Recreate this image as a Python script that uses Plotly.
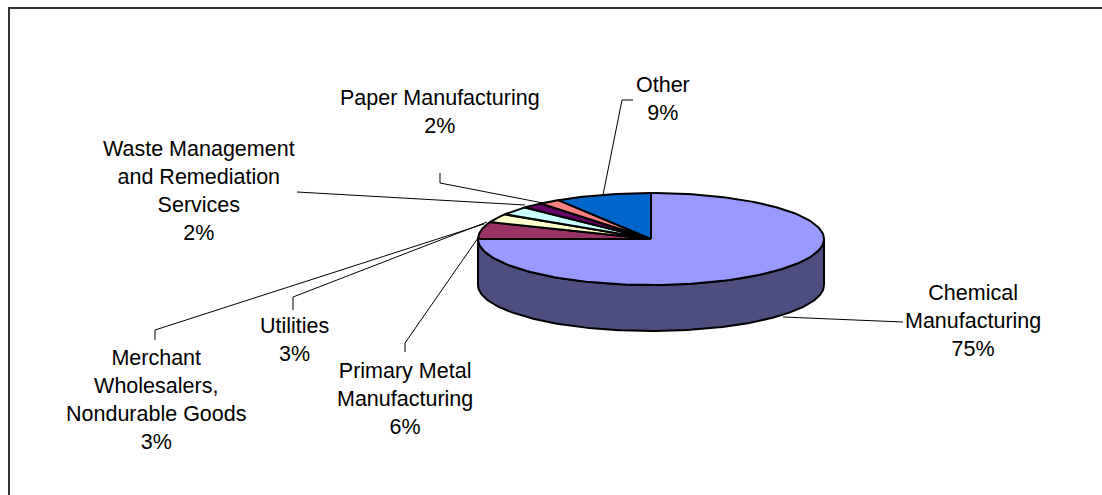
import numpy as np
import plotly.graph_objects as go

categories = ["Chemical<br>Manufacturing", "Primary Metal<br>Manufacturing", "Utilities",
              "Merchant<br>Wholesalers,<br>Nondurable Goods",
              "Waste Management<br>and Remediation<br>Services", "Paper Manufacturing", "Other"]
values = [75, 6, 3, 3, 2, 2, 9]
top_colors = ["#9999FF", "#993366", "#FFFFCC", "#CCFFFF", "#660066", "#FF8080", "#0066CC"]
wall_color = "#4D4D80"

WIDTH, HEIGHT = 1102, 495
CX, CY, RX, RY, DEPTH = 651, 239, 173, 46, 46

label_xy = [(973, 321), (405, 399), (294, 340), (155.5, 400), (199, 191), (440, 112), (663, 99)]
leaders = [
    [(783, 317), (903, 322)],
    [(478, 238), (405, 343), (405, 352)],
    [(487, 222), (293, 297), (293, 310)],
    [(484, 224), (155, 330), (155, 340)],
    [(525, 205), (308, 192), (297, 192)],
    [(543, 203), (440, 183), (440, 173)],
    [(603, 195), (622, 100), (633, 100)],
]

def ellipse(a0, a1, n=160):
    t = np.radians(np.linspace(a0, a1, n))
    return CX + RX * np.sin(t), CY - RY * np.cos(t)

fig = go.Figure()

# leader lines sit behind the pie
for pts in leaders:
    fig.add_trace(go.Scatter(
        x=[p[0] for p in pts], y=[p[1] for p in pts], mode="lines",
        line=dict(color="black", width=1), hoverinfo="skip", showlegend=False))

# side wall of the visible front half
wx, wy = ellipse(90, 270)
fig.add_trace(go.Scatter(
    x=np.r_[wx, wx[::-1], wx[0]], y=np.r_[wy + DEPTH, wy[::-1], wy[0] + DEPTH],
    mode="lines", fill="toself", fillcolor=wall_color,
    line=dict(color="black", width=2), hoverinfo="skip", showlegend=False))

# top slices
start = 0.0
total = sum(values)
for name, v, col in zip(categories, values, top_colors):
    end = start + 360.0 * v / total
    ex, ey = ellipse(start, end)
    fig.add_trace(go.Scatter(
        x=np.r_[CX, ex, CX], y=np.r_[CY, ey, CY],
        mode="lines", fill="toself", fillcolor=col,
        line=dict(color="black", width=2), name=name.replace("<br>", " "),
        hoverinfo="skip", showlegend=False))
    start = end

for name, v, (lx, ly) in zip(categories, values, label_xy):
    fig.add_annotation(x=lx, y=ly, xref="x", yref="y", text=f"{name}<br>{v}%",
                       showarrow=False, align="center", xanchor="center", yanchor="middle",
                       font=dict(family="Liberation Sans, Arial", size=21.5, color="black"))

# chart frame: only the top and left edges fall inside the picture
fig.add_shape(type="rect", x0=9, y0=8, x1=WIDTH + 20, y1=HEIGHT + 20, xref="x", yref="y",
              line=dict(color="#333333", width=2), fillcolor="rgba(0,0,0,0)", layer="below")

fig.update_layout(
    width=WIDTH, height=HEIGHT, margin=dict(l=0, r=0, t=0, b=0),
    paper_bgcolor="white", plot_bgcolor="white", showlegend=False,
    xaxis=dict(range=[0, WIDTH], visible=False, fixedrange=True),
    yaxis=dict(range=[HEIGHT, 0], visible=False, fixedrange=True),
)
fig.write_html("out.html", config={"displayModeBar": False},
               post_script="document.body.style.margin='0';document.body.style.overflow='hidden';")
